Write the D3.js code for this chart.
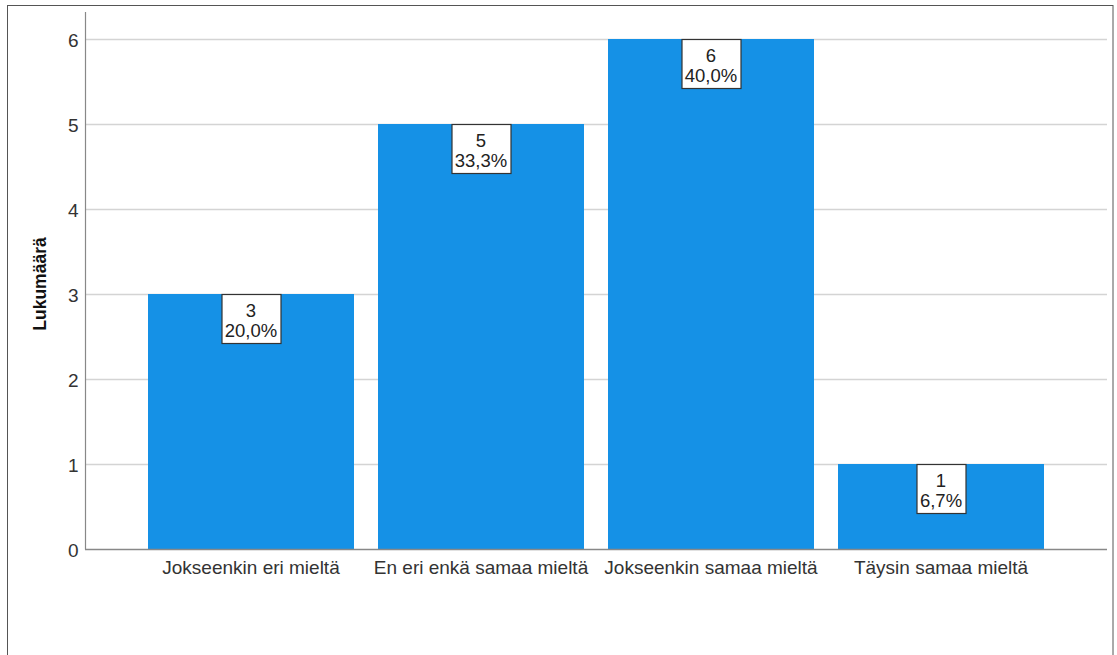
<!DOCTYPE html>
<html>
<head>
<meta charset="utf-8">
<script src="https://cdn.jsdelivr.net/npm/d3@7"></script>
<style>
  html, body { margin: 0; padding: 0; background: #fff; }
  svg { display: block; }
  text { font-family: "Liberation Sans", Arial, sans-serif; }
</style>
</head>
<body>
<svg id="chart" width="1117" height="655"></svg>
<script>
// Response categories and their counts
const categories = ["Jokseenkin eri mieltä", "En eri enkä samaa mieltä", "Jokseenkin samaa mieltä", "Täysin samaa mieltä"];
const counts = [3, 5, 6, 1];
const percentLabels = ["20,0%", "33,3%", "40,0%", "6,7%"];
const yTicks = [0, 1, 2, 3, 4, 5, 6];
const yTitle = "Lukumäärä";

const svg = d3.select("#chart");
const W = 1117, H = 655;

// outer frame
svg.append("rect")
  .attr("x", 7.5).attr("y", 5.5)
  .attr("width", 1113 - 7.5).attr("height", H)
  .attr("fill", "none").attr("stroke", "#555").attr("stroke-width", 1);

const plotLeft = 85, plotRight = 1107, plotTop = 12;
const y = d3.scaleLinear().domain([0, 6]).range([549, 39]);
const x = d3.scaleBand().domain(categories).range([136, 1056])
  .paddingInner(24 / 230).paddingOuter(12 / 230);

// horizontal gridlines
svg.append("g").selectAll("line").data(yTicks.filter(d => d > 0)).join("line")
  .attr("x1", plotLeft).attr("x2", plotRight)
  .attr("y1", d => Math.round(y(d)) + 0.5).attr("y2", d => Math.round(y(d)) + 0.5)
  .attr("stroke", "#d4d4d4").attr("stroke-width", 1.5);

// bars
svg.append("g").selectAll("rect").data(counts).join("rect")
  .attr("x", (d, i) => x(categories[i]))
  .attr("width", x.bandwidth())
  .attr("y", d => y(d))
  .attr("height", d => y(0) - y(d))
  .attr("fill", "#1591e6");

// y axis
const yAxis = d3.axisLeft(y).tickValues(yTicks).tickSize(0).tickPadding(7).tickFormat(d3.format("d"));
const gy = svg.append("g").attr("transform", `translate(${plotLeft + 0.5},0)`).call(yAxis);
gy.select(".domain").remove();
gy.selectAll("text").attr("font-size", 19).attr("fill", "#333").attr("dy", "0.42em")
  .style("font-family", "'Liberation Sans', Arial, sans-serif");
svg.append("line").attr("x1", plotLeft + 0.5).attr("x2", plotLeft + 0.5)
  .attr("y1", plotTop).attr("y2", 549.5).attr("stroke", "#888").attr("stroke-width", 1.2);

// x baseline
svg.append("line").attr("x1", plotLeft).attr("x2", plotRight)
  .attr("y1", 549.5).attr("y2", 549.5).attr("stroke", "#888").attr("stroke-width", 1.5);

// category labels
const xAxis = d3.axisBottom(x).tickSize(0).tickPadding(12);
const gx = svg.append("g").attr("transform", "translate(0,549)").call(xAxis);
gx.select(".domain").remove();
gx.selectAll("text").attr("font-size", 19).attr("fill", "#333")
  .style("font-family", "'Liberation Sans', Arial, sans-serif");

// axis title
svg.append("text")
  .attr("transform", "translate(46,284) rotate(-90)")
  .attr("text-anchor", "middle")
  .attr("font-size", 17.5).attr("font-weight", "bold").attr("fill", "#111")
  .text(yTitle);

// value labels in boxes at the top of each bar
const lbl = svg.append("g").selectAll("g").data(counts).join("g")
  .attr("transform", (d, i) => `translate(${Math.round(x(categories[i]) + x.bandwidth() / 2)},${y(d)})`);
lbl.each(function (d, i) {
  const g = d3.select(this);
  const t1 = g.append("text").attr("text-anchor", "middle").attr("y", 23)
    .attr("font-size", 18.5).attr("fill", "#222").text(d);
  const t2 = g.append("text").attr("text-anchor", "middle").attr("y", 43)
    .attr("font-size", 18.5).attr("fill", "#222").text(percentLabels[i]);
  const w = Math.round(Math.max(t1.node().getComputedTextLength(), t2.node().getComputedTextLength()) + 7);
  g.insert("rect", "text")
    .attr("x", -w / 2 + 0.5).attr("y", 0.5)
    .attr("width", w).attr("height", 49)
    .attr("fill", "#fff").attr("stroke", "#333").attr("stroke-width", 1.2);
});
</script>
</body>
</html>
